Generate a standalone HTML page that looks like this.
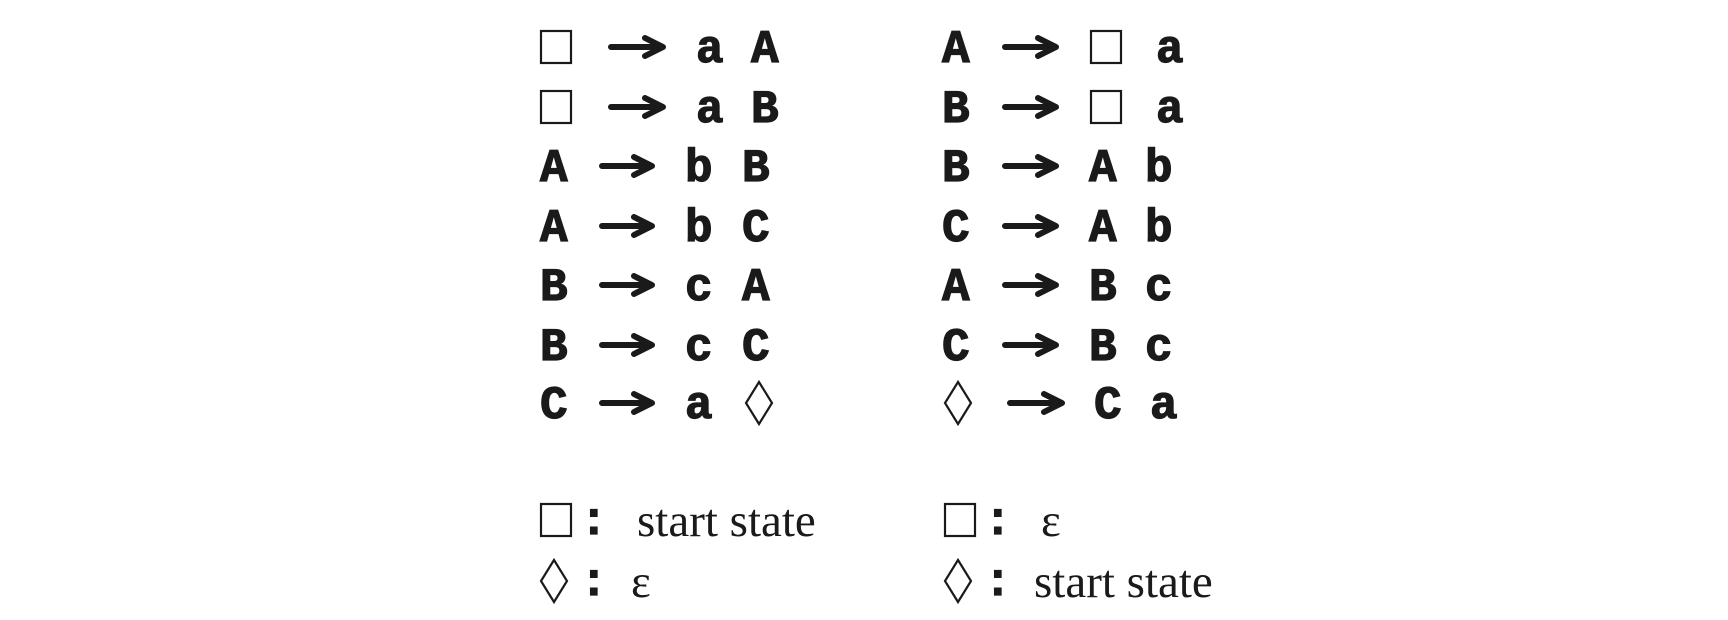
<!DOCTYPE html>
<html><head><meta charset="utf-8"><style>
html,body{margin:0;padding:0;background:#fff;width:1728px;height:620px;overflow:hidden}
svg{display:block}
.m{font-family:"Liberation Mono",monospace;font-weight:bold;font-size:46px;fill:#1a1a1a;stroke:#1a1a1a;stroke-width:1.2}
.s{font-family:"Liberation Serif",serif;font-size:47px;fill:#1a1a1a}
</style></head><body>
<svg width="1728" height="620">
<g id="g"></g>
</svg>
<script>
const leftRules=[["S","a","A"],["S","a","B"],["A","b","B"],["A","b","C"],["B","c","A"],["B","c","C"],["C","a","D"]];
const rightRules=[["A","S","a"],["B","S","a"],["B","A","b"],["C","A","b"],["A","B","c"],["C","B","c"],["D","C","a"]];
const rowCenters=[47,107,166,226,285,345,403];
const g=document.getElementById('g');
const NS='http://www.w3.org/2000/svg';
function el(t,a){const e=document.createElementNS(NS,t);for(const k in a)e.setAttribute(k,a[k]);g.appendChild(e);return e;}
function sym(s,x,cy,name){
  if(s==='S'){const e=el('rect',{x:x+1,y:cy-16,width:30,height:32,fill:'none',stroke:'#1a1a1a','stroke-width':2.2});
    
    }
  else if(s==='D'){const e=el('polygon',{points:`${x+14},${cy-21} ${x+27},${cy} ${x+14},${cy+21} ${x+1},${cy}`,fill:'none',stroke:'#1a1a1a','stroke-width':2.2});
    
    }
  else{const e=el('text',{x:x,y:cy+15,class:'m'});e.textContent=s;
    
    }
}
function arrow(x1,x2,cy,name){
  const e=el('path',{d:`M${x1},${cy} L${x2-2},${cy} M${x2-18},${cy-9} L${x2},${cy} L${x2-18},${cy+9}`,fill:'none',stroke:'#1a1a1a','stroke-width':6,'stroke-linecap':'round','stroke-linejoin':'round'});
  
  
}
leftRules.forEach((r,i)=>{const cy=rowCenters[i];const n='left-rule-'+(i+1);
  const sq=(r[0]==='S');
  sym(r[0],540,cy,n);
  if(sq){arrow(611,663,cy,n);sym(r[1],696,cy,n);sym(r[2],751,cy,n);}
  else{arrow(602,652,cy,n);sym(r[1],685,cy,n);sym(r[2],r[2]==='D'?745:742,cy,n);}
});
rightRules.forEach((r,i)=>{const cy=rowCenters[i];const n='right-rule-'+(i+1);
  if(r[0]==='D'){sym('D',944,cy,n);arrow(1010,1062,cy,n);sym(r[1],1094,cy,n);sym(r[2],1150,cy,n);}
  else{sym(r[0],942,cy,n);arrow(1005,1056,cy,n);sym(r[1],r[1]==='S'?1090:1089,cy,n);sym(r[2],r[1]==='S'?1156:1145,cy,n);}
});
const legend=[[540,520,'S','start state',637],[540,581,'D','ε',631],[944,520,'S','ε',1041],[944,581,'D','start state',1034]];
legend.forEach((l,i)=>{const n='legend-'+(i+1);
  sym(l[2],l[0],l[1],n);
  const c=el('text',{x:l[0]+40,y:l[1]+14,class:'m'});c.textContent=':';
  
  
  const t=el('text',{x:l[4],y:l[1]+16,class:'s'});t.textContent=l[3];
  
  
});
</script>
</body></html>
